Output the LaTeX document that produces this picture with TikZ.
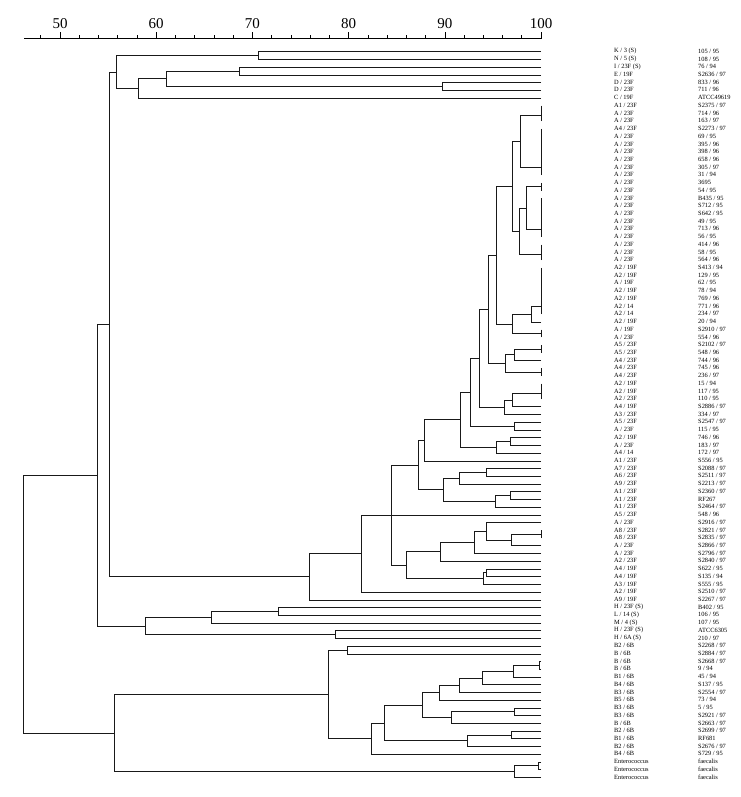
\documentclass[tikz,border=0pt]{standalone}
\usepackage{fontspec}
\setmainfont{Liberation Serif}
\usetikzlibrary{calc}
\tikzset{
  tree/.style={line width=0.65pt, draw=black!90},
  axisline/.style={line width=1pt, draw=black},
  lab/.style={anchor=west, inner sep=0pt, font=\fontsize{6.4}{7}\selectfont},
  scalelab/.style={anchor=center, inner sep=0pt, font=\fontsize{15}{15}\selectfont}
}
\newcommand\jn[4]{%
  \path let \p1=($(#3)!0.5!(#4)$) in coordinate (#1) at (#2pt,\y1);
  \draw[tree] (#3) -| (#1) (#4) -| (#1);}
\newcommand\lab[3]{%
  \node[lab] (la#1) at (614,{51.3+(#1-1)*7.72}) {#2};
  \node[lab] (lb#1) at (698,{51.3+(#1-1)*7.72}) {#3};}
\begin{document}
\begin{tikzpicture}[x=1pt,y=-1pt]
\useasboundingbox (0,0) rectangle (740,797);
% ---- scale ----
\coordinate (ax0) at (24,39);
\coordinate (ax1) at (541,39);
\draw[axisline] (ax0) -- (ax1);
\foreach \v in {48,52,54,56,58,62,64,66,68,72,74,76,78,82,84,86,88,92,94,96,98}
  \draw[line width=0.6pt] ({541-(100-\v)*9.62},39) -- ++(0,-3.5);
\foreach \v in {50,60,70,80,90,100}{
  \draw[line width=0.6pt] ({541-(100-\v)*9.62},39) -- ++(0,-6.5);
  \node[scalelab] (tk\v) at ({541-(100-\v)*9.62},24) {\v};}
% ---- leaves ----
\foreach \i in {1,...,95}
  \coordinate (l\i) at (541,{51.7+(\i-1)*7.72});
% ---- top group ----
\jn{t12}{258}{l1}{l2}
\jn{t34}{239}{l3}{l4}
\jn{t56}{442}{l5}{l6}
\jn{t36}{166}{t34}{t56}
\jn{t37}{138}{t36}{l7}
\jn{t17}{116}{t12}{t37}
% ---- A group ----
\jn{c89}{541}{l8}{l9}
\jn{c810}{541}{c89}{l10}
\jn{c11a}{541}{l11}{l12}
\jn{c11b}{541}{c11a}{l13}
\jn{c11c}{541}{c11b}{l14}
\jn{c11d}{541}{c11c}{l15}
\jn{c11e}{541}{c11d}{l16}
\jn{c11f}{541}{c11e}{l17}
\jn{a1}{520}{c810}{c11f}
\jn{c1819}{541}{l18}{l19}
\jn{c20a}{541}{l20}{l21}
\jn{c20b}{541}{c20a}{l22}
\jn{c20c}{541}{c20b}{l23}
\jn{c20d}{541}{c20c}{l24}
\jn{c20e}{541}{c20d}{l25}
\jn{a2}{526.7}{c1819}{c20e}
\jn{c26a}{541}{l26}{l27}
\jn{c26b}{541}{c26a}{l28}
\jn{a3}{519.3}{a2}{c26b}
\jn{a4}{512}{a1}{a3}
\jn{c29a}{541}{l29}{l30}
\jn{c29b}{541}{c29a}{l31}
\jn{c29c}{541}{c29b}{l32}
\jn{c29d}{541}{c29c}{l33}
\jn{c29e}{541}{c29d}{l34}
\jn{c29f}{541}{c29e}{l35}
\jn{a5}{531.7}{c29f}{l36}
\jn{c3738}{541}{l37}{l38}
\jn{a6}{512}{a5}{c3738}
\jn{a7}{496.7}{a4}{a6}
\jn{c3940}{541}{l39}{l40}
\jn{a8}{514.7}{c3940}{l41}
\jn{c4243}{541}{l42}{l43}
\jn{a9}{505.3}{a8}{c4243}
\jn{a10}{488}{a7}{a9}
\jn{c44a}{541}{l44}{l45}
\jn{c44b}{541}{c44a}{l46}
\jn{a11}{512}{c44b}{l47}
\jn{a12}{504}{a11}{l48}
\jn{a13}{479.3}{a10}{a12}
\jn{a14}{514}{l49}{l50}
\jn{a15}{470.7}{a13}{a14}
\jn{a16}{510.3}{l51}{l52}
\jn{a17}{496.7}{a16}{l53}
\jn{a18}{460.7}{a15}{a17}
\jn{a19}{424.7}{a18}{l54}
\jn{a20}{486.7}{l55}{l56}
\jn{a21}{459.3}{a20}{l57}
\jn{a22}{510.3}{l58}{l59}
\jn{a23}{495}{a22}{l60}
\jn{a24}{443.3}{a21}{a23}
\jn{a25}{418.7}{a19}{a24}
\jn{c6364}{541}{l63}{l64}
\jn{a27}{511.7}{c6364}{l65}
\jn{a28}{486}{l62}{a27}
\jn{a29}{474}{a28}{l66}
\jn{a30}{440.3}{a29}{l67}
\jn{a31}{486}{l68}{l69}
\jn{a32}{483.3}{a31}{l70}
\jn{a33}{406}{a30}{a32}
% three-way node: a25, leaf 61, a33
\jn{a34}{391}{a25}{a33}
\draw[tree] (l61) -| (a34);
\jn{a35}{361.7}{a34}{l71}
\jn{a36}{309.3}{a35}{l72}
\jn{r1}{109}{t17}{a36}
% ---- H / L / M ----
\jn{h1}{278}{l73}{l74}
\jn{h2}{211}{h1}{l75}
\jn{h3}{335.7}{l76}{l77}
\jn{h4}{145}{h2}{h3}
\jn{r2}{97}{r1}{h4}
% ---- B group ----
\jn{b1}{347}{l78}{l79}
\jn{b2}{539}{l80}{l81}
\jn{b3}{513.3}{b2}{l82}
\jn{b4}{482.3}{b3}{l83}
\jn{b5}{459.3}{b4}{l84}
\jn{b6}{439.3}{b5}{l85}
\jn{b7}{514.3}{l86}{l87}
\jn{b8}{451.7}{b7}{l88}
\jn{b9}{422.3}{b6}{b8}
\jn{b10}{511.7}{l89}{l90}
\jn{b11}{467.3}{b10}{l91}
\jn{b12}{384.3}{b9}{b11}
\jn{b13}{371.7}{b12}{l92}
\jn{b14}{328}{b1}{b13}
% ---- Enterococcus ----
\jn{e1}{538.5}{l93}{l94}
\jn{e2}{514}{e1}{l95}
\jn{r3}{114}{b14}{e2}
\jn{root}{23}{r2}{r3}
% ---- labels ----
\lab{1}{K / 3 (S)}{105 / 95}
\lab{2}{N / 5 (S)}{108 / 95}
\lab{3}{I / 23F (S)}{76 / 94}
\lab{4}{E / 19F}{S2636 / 97}
\lab{5}{D / 23F}{833 / 96}
\lab{6}{D / 23F}{711 / 96}
\lab{7}{C / 19F}{ATCC49619}
\lab{8}{A1 / 23F}{S2375 / 97}
\lab{9}{A / 23F}{714 / 96}
\lab{10}{A / 23F}{163 / 97}
\lab{11}{A4 / 23F}{S2273 / 97}
\lab{12}{A / 23F}{69 / 95}
\lab{13}{A / 23F}{395 / 96}
\lab{14}{A / 23F}{398 / 96}
\lab{15}{A / 23F}{658 / 96}
\lab{16}{A / 23F}{305 / 97}
\lab{17}{A / 23F}{31 / 94}
\lab{18}{A / 23F}{3695}
\lab{19}{A / 23F}{54 / 95}
\lab{20}{A / 23F}{B435 / 95}
\lab{21}{A / 23F}{S712 / 95}
\lab{22}{A / 23F}{S642 / 95}
\lab{23}{A / 23F}{49 / 95}
\lab{24}{A / 23F}{713 / 96}
\lab{25}{A / 23F}{56 / 95}
\lab{26}{A / 23F}{414 / 96}
\lab{27}{A / 23F}{58 / 95}
\lab{28}{A / 23F}{564 / 96}
\lab{29}{A2 / 19F}{S413 / 94}
\lab{30}{A2 / 19F}{129 / 95}
\lab{31}{A / 19F}{62 / 95}
\lab{32}{A2 / 19F}{78 / 94}
\lab{33}{A2 / 19F}{769 / 96}
\lab{34}{A2 / 14}{771 / 96}
\lab{35}{A2 / 14}{234 / 97}
\lab{36}{A2 / 19F}{20 / 94}
\lab{37}{A / 19F}{S2910 / 97}
\lab{38}{A / 23F}{554 / 96}
\lab{39}{A5 / 23F}{S2102 / 97}
\lab{40}{A5 / 23F}{548 / 96}
\lab{41}{A4 / 23F}{744 / 96}
\lab{42}{A4 / 23F}{745 / 96}
\lab{43}{A4 / 23F}{236 / 97}
\lab{44}{A2 / 19F}{15 / 94}
\lab{45}{A2 / 19F}{117 / 95}
\lab{46}{A2 / 23F}{110 / 95}
\lab{47}{A4 / 19F}{S2886 / 97}
\lab{48}{A3 / 23F}{334 / 97}
\lab{49}{A5 / 23F}{S2547 / 97}
\lab{50}{A / 23F}{115 / 95}
\lab{51}{A2 / 19F}{746 / 96}
\lab{52}{A / 23F}{183 / 97}
\lab{53}{A4 / 14}{172 / 97}
\lab{54}{A1 / 23F}{S556 / 95}
\lab{55}{A7 / 23F}{S2088 / 97}
\lab{56}{A6 / 23F}{S2511 / 97}
\lab{57}{A9 / 23F}{S2213 / 97}
\lab{58}{A1 / 23F}{S2360 / 97}
\lab{59}{A1 / 23F}{RF267}
\lab{60}{A1 / 23F}{S2464 / 97}
\lab{61}{A5 / 23F}{548 / 96}
\lab{62}{A / 23F}{S2916 / 97}
\lab{63}{A8 / 23F}{S2821 / 97}
\lab{64}{A8 / 23F}{S2835 / 97}
\lab{65}{A / 23F}{S2866 / 97}
\lab{66}{A / 23F}{S2796 / 97}
\lab{67}{A2 / 23F}{S2840 / 97}
\lab{68}{A4 / 19F}{S622 / 95}
\lab{69}{A4 / 19F}{S135 / 94}
\lab{70}{A3 / 19F}{S555 / 95}
\lab{71}{A2 / 19F}{S2510 / 97}
\lab{72}{A9 / 19F}{S2267 / 97}
\lab{73}{H / 23F (S)}{B402 / 95}
\lab{74}{L / 14 (S)}{106 / 95}
\lab{75}{M / 4 (S)}{107 / 95}
\lab{76}{H / 23F (S)}{ATCC6305}
\lab{77}{H / 6A (S)}{210 / 97}
\lab{78}{B2 / 6B}{S2268 / 97}
\lab{79}{B / 6B}{S2884 / 97}
\lab{80}{B / 6B}{S2668 / 97}
\lab{81}{B / 6B}{9 / 94}
\lab{82}{B1 / 6B}{45 / 94}
\lab{83}{B4 / 6B}{S137 / 95}
\lab{84}{B3 / 6B}{S2554 / 97}
\lab{85}{B5 / 6B}{73 / 94}
\lab{86}{B3 / 6B}{5 / 95}
\lab{87}{B3 / 6B}{S2921 / 97}
\lab{88}{B / 6B}{S2663 / 97}
\lab{89}{B2 / 6B}{S2699 / 97}
\lab{90}{B1 / 6B}{RF681}
\lab{91}{B2 / 6B}{S2676 / 97}
\lab{92}{B4 / 6B}{S729 / 95}
\lab{93}{Enterococcus}{faecalis}
\lab{94}{Enterococcus}{faecalis}
\lab{95}{Enterococcus}{faecalis}
\end{tikzpicture}
\end{document}
